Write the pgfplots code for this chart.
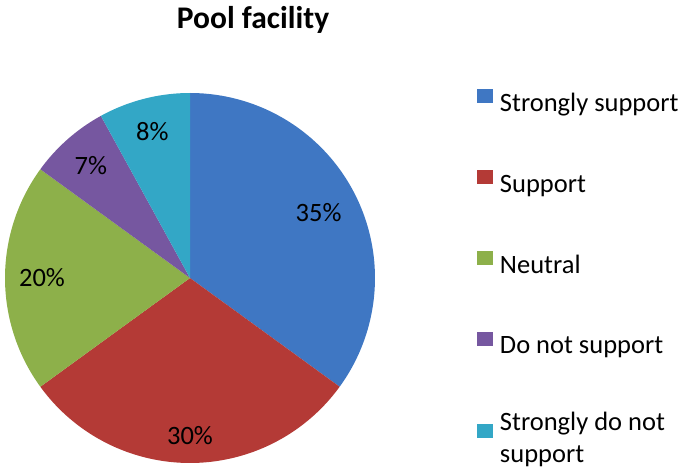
\documentclass[border=0pt]{standalone}
\usepackage{pgfplots}
\pgfplotsset{compat=1.18}
\usepgfplotslibrary{polar}
\usepackage{fontspec}
\setmainfont{Carlito}
\definecolor{cA}{HTML}{3F77C3}
\definecolor{cB}{HTML}{B43A36}
\definecolor{cC}{HTML}{8DB04A}
\definecolor{cD}{HTML}{7657A0}
\definecolor{cE}{HTML}{33A7C6}
% shares (percent)
\def\VA{35}\def\VB{30}\def\VC{20}\def\VD{7}\def\VE{8}
\pgfmathsetmacro\AA{90}
\pgfmathsetmacro\AB{\AA-3.6*\VA}
\pgfmathsetmacro\AC{\AB-3.6*\VB}
\pgfmathsetmacro\AD{\AC-3.6*\VC}
\pgfmathsetmacro\AE{\AD-3.6*\VD}
\pgfmathsetmacro\AF{\AE-3.6*\VE}
\pgfmathsetmacro\MA{(\AA+\AB)/2}
\pgfmathsetmacro\MB{(\AB+\AC)/2}
\pgfmathsetmacro\MC{(\AC+\AD)/2}
\pgfmathsetmacro\MD{(\AD+\AE)/2}
\pgfmathsetmacro\ME{(\AE+\AF)/2}
\begin{document}
\begin{tikzpicture}[x=1pt,y=1pt]
\useasboundingbox (0,0) rectangle (682,470);
\node[font=\bfseries\fontsize{31.5}{36}\selectfont, anchor=base] at (253,441) {Pool facility};
\begin{polaraxis}[at={(190pt,192pt)}, anchor=center, width=370pt, scale only axis,
  hide axis, ymin=0, ymax=1, xmin=0, xmax=360, clip=false,
  legend style={at={(axis description cs:1.267,1.016)}, anchor=north west, draw=none, fill=none,
    font=\fontsize{26.5}{32}\selectfont, row sep=57pt, column sep=0pt,
    nodes={inner sep=0pt},
    /tikz/every odd column/.style={column sep=7pt}},
  legend cell align=left,
  legend image code/.code={\fill[#1] (0pt,0pt) rectangle (16pt,14pt);},
  ]
\addplot[draw=none, fill=cA, domain=\AB:\AA, samples=90] {1} -- (axis cs:0,0) -- cycle;
\addplot[draw=none, fill=cB, domain=\AC:\AB, samples=90] {1} -- (axis cs:0,0) -- cycle;
\addplot[draw=none, fill=cC, domain=\AD:\AC, samples=60] {1} -- (axis cs:0,0) -- cycle;
\addplot[draw=none, fill=cD, domain=\AE:\AD, samples=30] {1} -- (axis cs:0,0) -- cycle;
\addplot[draw=none, fill=cE, domain=\AF:\AE, samples=30] {1} -- (axis cs:0,0) -- cycle;
\addlegendentry{Strongly support}
\addlegendentry{Support}
\addlegendentry{Neutral}
\addlegendentry{Do not support}
\addlegendentry[align=left]{Strongly do not\\support}
\node[font=\fontsize{26.5}{31}\selectfont] at (axis cs:\MA,0.78) {35\%};
\node[font=\fontsize{26.5}{31}\selectfont] at (axis cs:\MB,0.85) {30\%};
\node[font=\fontsize{26.5}{31}\selectfont] at (axis cs:\MC,0.80) {20\%};
\node[font=\fontsize{26.5}{31}\selectfont] at (axis cs:\MD,0.81) {7\%};
\node[font=\fontsize{26.5}{31}\selectfont] at (axis cs:\ME,0.82) {8\%};
\end{polaraxis}
\end{tikzpicture}
\end{document}
